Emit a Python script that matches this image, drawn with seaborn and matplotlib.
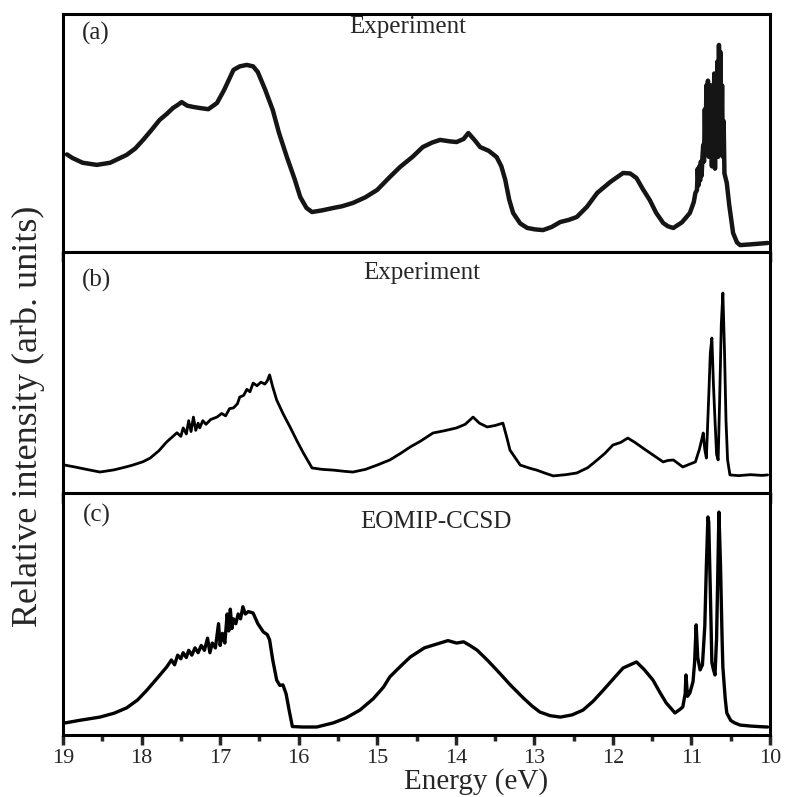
import numpy as np
import pandas as pd
import matplotlib
matplotlib.use("Agg")
import matplotlib.pyplot as plt
import seaborn as sns
from matplotlib.ticker import MultipleLocator

# ---------------- data ----------------
energy_a = [18.95, 18.88, 18.75, 18.57, 18.40, 18.19, 18.08, 17.98, 17.88, 17.77, 17.68, 17.60,
            17.53, 17.49, 17.42, 17.35, 17.26, 17.15, 17.04, 16.95, 16.83, 16.75, 16.66, 16.58,
            16.52, 16.43, 16.33, 16.25, 16.15, 16.05, 15.98, 15.90, 15.83, 15.70, 15.56, 15.45,
            15.31, 15.15, 15.00, 14.84, 14.71, 14.55, 14.42, 14.30, 14.20, 14.08, 13.99, 13.90,
            13.84, 13.76, 13.69, 13.58, 13.48, 13.42, 13.37, 13.32, 13.27, 13.18, 13.09, 12.99,
            12.89, 12.78, 12.67, 12.56, 12.46, 12.33, 12.20, 12.03, 11.87, 11.78, 11.70, 11.62,
            11.53, 11.45, 11.36, 11.30, 11.23, 11.12, 11.02, 10.97, 10.95,
            10.93, 10.92, 10.91, 10.90, 10.89, 10.88, 10.87, 10.86, 10.85, 10.84, 10.83, 10.82,
            10.81, 10.80, 10.79, 10.78, 10.77, 10.76, 10.75, 10.74, 10.73, 10.72, 10.71, 10.70,
            10.69, 10.68, 10.67, 10.66, 10.65, 10.64, 10.63, 10.62, 10.61, 10.60, 10.59, 10.58,
            10.55, 10.52, 10.47, 10.42, 10.38, 10.25, 10.10, 10.03]
intensity_a = [41.0, 39.5, 37.5, 36.6, 37.5, 40.8, 43.5, 47.1, 51.0, 55.5, 58.0, 60.5,
               62.0, 63.0, 61.5, 61.0, 60.5, 60.0, 62.6, 68.0, 76.5, 78.0, 78.6, 78.0,
               75.6, 68.5, 59.7, 50.0, 39.9, 30.5, 23.1, 18.5, 16.8, 17.5, 18.5, 19.2,
               20.6, 23.0, 26.1, 31.5, 35.7, 40.0, 44.1, 46.0, 47.1, 46.5, 46.2, 47.5,
               50.0, 47.0, 44.1, 42.5, 39.9, 36.0, 30.3, 22.0, 16.4, 12.0, 10.1, 9.5,
               9.2, 10.5, 12.6, 13.5, 14.7, 19.0, 24.8, 29.5, 33.2, 33.0, 31.1, 26.5,
               21.8, 16.5, 12.2, 10.8, 10.1, 12.5, 16.4, 21.0, 24.8,
               26.0, 35.0, 28.0, 36.0, 30.0, 38.0, 32.0, 40.0, 45.0, 38.0, 60.0, 42.0,
               70.0, 50.0, 72.0, 40.0, 65.0, 45.0, 70.0, 36.0, 60.0, 40.0, 75.0, 35.0,
               70.0, 45.0, 80.0, 40.0, 87.0, 55.0, 84.0, 45.0, 70.0, 40.0, 55.0, 33.0,
               29.0, 20.0, 8.0, 4.0, 2.9, 3.2, 3.6, 3.8]

energy_b = [18.98, 18.85, 18.70, 18.53, 18.35, 18.20, 18.11, 17.98, 17.89, 17.78, 17.68, 17.60,
            17.55, 17.50, 17.47, 17.43, 17.40, 17.37, 17.34, 17.31, 17.28, 17.26, 17.22, 17.18,
            17.12, 17.04, 16.98, 16.93, 16.88, 16.83, 16.78, 16.75, 16.70, 16.66, 16.62, 16.58,
            16.53, 16.48, 16.43, 16.40, 16.37, 16.33, 16.28, 16.20, 16.11, 16.02, 15.94, 15.83,
            15.70, 15.56, 15.42, 15.31, 15.15, 15.00, 14.84, 14.70, 14.58, 14.45, 14.29, 14.15,
            13.99, 13.88, 13.78, 13.70, 13.60, 13.50, 13.40, 13.35, 13.31, 13.18, 13.05, 12.97,
            12.86, 12.76, 12.60, 12.46, 12.32, 12.20, 12.10, 12.00, 11.90, 11.81, 11.72, 11.62,
            11.50, 11.36, 11.30, 11.23, 11.11, 11.02, 10.95, 10.90, 10.87, 10.85, 10.83, 10.81,
            10.78, 10.76, 10.74, 10.72, 10.70, 10.68, 10.66, 10.64, 10.62, 10.60, 10.58, 10.56,
            10.54, 10.51, 10.40, 10.25, 10.10, 10.03]
intensity_b = [11.6, 10.8, 9.8, 8.7, 9.6, 10.8, 11.6, 13.0, 14.5, 17.5, 21.2, 23.5,
               25.0, 23.5, 27.0, 24.5, 30.0, 25.5, 31.5, 26.0, 29.0, 27.0, 30.0, 28.5,
               30.5, 31.5, 33.0, 32.0, 35.0, 35.3, 37.0, 39.8, 40.5, 43.0, 42.0, 45.6,
               44.5, 46.0, 45.2, 46.5, 49.0, 44.0, 38.6, 33.0, 27.4, 21.5, 16.6, 10.4,
               9.8, 9.5, 9.0, 8.7, 9.8, 11.6, 13.7, 16.5, 19.1, 21.5, 24.9, 25.8,
               27.0, 28.5, 31.5, 29.0, 27.4, 28.0, 29.0, 23.0, 17.8, 11.6, 10.2, 9.5,
               8.2, 7.1, 7.6, 8.3, 10.5, 13.7, 16.5, 19.9, 21.0, 22.8, 21.0, 18.7,
               16.0, 12.9, 13.5, 13.7, 10.8, 12.0, 12.9, 18.0, 22.0, 24.9, 18.0, 14.5,
               40.0, 58.0, 64.3, 45.0, 30.0, 16.0, 13.7, 40.0, 70.0, 83.0, 60.0, 30.0,
               13.7, 7.5, 7.2, 7.6, 7.3, 7.5]

energy_c = [18.97, 18.80, 18.53, 18.35, 18.19, 18.05, 17.93, 17.80, 17.68, 17.62, 17.58, 17.54,
            17.50, 17.47, 17.43, 17.40, 17.36, 17.32, 17.28, 17.24, 17.20, 17.16, 17.13, 17.10,
            17.06, 17.02, 17.00, 16.97, 16.94, 16.91, 16.89, 16.87, 16.85, 16.83, 16.80, 16.77,
            16.74, 16.71, 16.68, 16.64, 16.58, 16.52, 16.45, 16.40, 16.37, 16.33, 16.28, 16.24,
            16.20, 16.16, 16.12, 16.08, 15.95, 15.77, 15.56, 15.40, 15.22, 15.05, 14.92, 14.84,
            14.70, 14.58, 14.40, 14.25, 14.20, 14.10, 13.99, 13.90, 13.82, 13.73, 13.60, 13.48,
            13.30, 13.14, 13.03, 12.93, 12.80, 12.67, 12.52, 12.38, 12.25, 12.12, 12.00, 11.87,
            11.78, 11.70, 11.60, 11.49, 11.40, 11.32, 11.26, 11.21, 11.15, 11.11, 11.08, 11.07,
            11.05, 11.02, 10.98, 10.96, 10.94, 10.92, 10.89, 10.86, 10.83, 10.81, 10.79, 10.78,
            10.76, 10.74, 10.72, 10.70, 10.68, 10.66, 10.65, 10.63, 10.61, 10.60, 10.57, 10.55,
            10.50, 10.45, 10.38, 10.25, 10.10, 10.03]
intensity_c = [5.0, 6.0, 7.4, 9.0, 11.2, 14.5, 18.6, 23.5, 28.1, 31.0, 29.0, 33.0,
               31.5, 34.0, 32.0, 35.0, 33.0, 36.0, 34.0, 37.0, 35.0, 40.0, 34.0, 38.0,
               36.0, 46.0, 37.0, 42.0, 38.0, 50.0, 43.0, 52.0, 44.0, 48.0, 46.0, 50.0,
               48.0, 53.0, 50.0, 51.0, 50.4, 46.0, 42.6, 41.5, 39.3, 31.0, 22.7, 20.5,
               20.7, 17.0, 10.0, 3.5, 3.3, 3.3, 5.0, 7.0, 10.3, 15.0, 19.8, 24.0,
               28.5, 32.2, 36.0, 37.5, 38.0, 39.0, 38.0, 38.5, 37.0, 35.1, 31.0, 26.9,
               20.5, 15.3, 12.0, 9.5, 8.0, 7.4, 8.3, 10.3, 14.0, 18.6, 23.0, 27.7,
               29.0, 30.2, 27.0, 22.7, 17.5, 13.2, 11.0, 9.1, 10.5, 11.6, 17.0, 24.8,
               16.0, 17.4, 22.0, 30.0, 45.5, 32.0, 26.9, 29.0, 45.0, 70.0, 90.1, 88.0,
               60.0, 30.0, 27.0, 24.8, 40.0, 75.0, 92.1, 70.0, 40.0, 28.1, 15.0, 9.1,
               6.0, 5.0, 4.1, 3.7, 3.4, 3.3]

panel_tags = ["(a)", "(b)", "(c)"]
panel_titles = ["Experiment", "Experiment", "EOMIP-CCSD"]
x_ticks = [19, 18, 17, 16, 15, 14, 13, 12, 11, 10]

# ---------------- style ----------------
sns.set_style("ticks")
plt.rcParams["font.family"] = ["Liberation Serif", "DejaVu Serif"]

fig = plt.figure(figsize=(7.88, 7.97), dpi=100)

left, width = 63 / 788, (770 - 63) / 788
rows = [(14, 252), (252, 493), (493, 735)]
series = [(energy_a, intensity_a, 3.2, "#151515"),
          (energy_b, intensity_b, 2.0, "black"),
          (energy_c, intensity_c, 2.4, "black")]
tag_pos = [(0.027, 0.92), (0.027, 0.884), (0.028, 0.909)]
title_pos = [(0.488, 0.945), (0.508, 0.913), (0.528, 0.88)]

axes = []
for i, ((top, bot), (ex, iy, lw, col)) in enumerate(zip(rows, series)):
    ax = fig.add_axes([left, 1 - bot / 797, width, (bot - top) / 797])
    df = pd.DataFrame({"Energy": ex, "Intensity": iy})
    sns.lineplot(data=df, x="Energy", y="Intensity", ax=ax, color=col,
                 linewidth=lw, sort=False, estimator=None)
    ax.set_xlim(19, 10)
    ax.set_ylim(0, 100)
    ax.set_yticks([])
    ax.set_ylabel("")
    ax.set_xlabel("")
    ax.xaxis.set_major_locator(MultipleLocator(1))
    ax.xaxis.set_minor_locator(MultipleLocator(0.5))
    ax.tick_params(axis="x", which="major", direction="out", top=False, bottom=True,
                   length=7, width=2.5, labelsize=16, pad=3)
    ax.tick_params(axis="x", which="minor", direction="out", top=False, bottom=True,
                   length=4, width=2.5)
    for s in ax.spines.values():
        s.set_linewidth(2.2)
        s.set_color("black")
    if i < 2:
        ax.tick_params(axis="x", which="both", labelbottom=False)
    else:
        ax.set_xticks(x_ticks)
        ax.set_xticklabels([str(t) for t in x_ticks])
    ax.text(tag_pos[i][0], tag_pos[i][1], panel_tags[i], transform=ax.transAxes,
            fontsize=18, ha="left", va="center")
    ax.text(title_pos[i][0], title_pos[i][1], panel_titles[i], transform=ax.transAxes,
            fontsize=18, ha="center", va="center")
    axes.append(ax)

fig.text(0.036, 0.478, "Relative intensity (arb. units)", rotation=90,
         fontsize=26, ha="center", va="center")
fig.text(0.604, 0.0195, "Energy (eV)", fontsize=21,
         ha="center", va="center")

fig.savefig("out.png", dpi=100)
